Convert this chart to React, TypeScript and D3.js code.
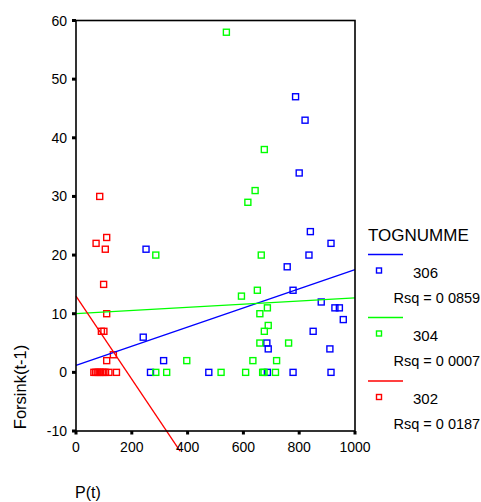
import React from "react";
import * as d3 from "d3";

const xTicks = [0, 200, 400, 600, 800, 1000];
const yTicks = [-10, 0, 10, 20, 30, 40, 50, 60];

const seriesNames = ["306", "304", "302"];
const rsqLabels = ["Rsq = 0 0859", "Rsq = 0 0007", "Rsq = 0 0187"];
const seriesColors = ["#0000ff", "#00ff00", "#ff0000"];

const p306 = [787, 821, 800, 251, 840, 914, 835, 757, 778, 879, 928, 944, 958, 850, 241, 684, 689, 910, 314, 267, 476, 686, 778, 914];
const v306 = [47, 43, 34, 21, 24, 22, 20, 18, 14, 12, 11, 11, 9, 7, 6, 5, 4, 4, 2, 0, 0, 0, 0, 0];

const p304 = [539, 675, 642, 616, 286, 664, 593, 650, 686, 659, 689, 675, 659, 762, 397, 634, 719, 286, 325, 520, 608, 669, 674, 715];
const v304 = [58, 38, 31, 29, 20, 20, 13, 14, 11, 10, 8, 7, 5, 5, 2, 2, 2, 0, 0, 0, 0, 0, 0, 0];

const p302 = [85, 72, 110, 105, 99, 110, 91, 100, 134, 110, 64, 70, 76, 82, 88, 94, 100, 106, 118, 145];
const v302 = [30, 22, 23, 21, 15, 10, 7, 7, 3, 2, 0, 0, 0, 0, 0, 0, 0, 0, 0, 0];

// fit lines: [x0, y0, x1, y1]
const fit306 = [0, 1.2, 1000, 17.5];
const fit304 = [0, 10.0, 1000, 12.7];
const fit302 = [0, 13.0, 373, -13.45];

const FONT = "'Liberation Sans', Arial, sans-serif";

export default function App() {
  const x = d3.scaleLinear().domain([0, 1000]).range([76, 355]);
  const y = d3.scaleLinear().domain([-10, 60]).range([431, 20.5]);
  const series = [
    { p: p306, v: v306, fit: fit306 },
    { p: p304, v: v304, fit: fit304 },
    { p: p302, v: v302, fit: fit302 },
  ];
  const line = d3
    .line<[number, number]>()
    .x((d) => x(d[0]))
    .y((d) => y(d[1]));
  const ms = 6;
  const legendY = [254.5, 317.5, 381];

  return (
    <svg
      width={481}
      height={502}
      style={{ position: "absolute", left: 0, top: 0, background: "#fff" }}
      fontFamily={FONT}
    >
      <rect x={0} y={0} width={481} height={502} fill="#fff" />
      {/* points */}
      {series.map((s, si) =>
        s.p.map((pv, i) => (
          <rect
            key={`pt-${si}-${i}`}
            x={x(pv) - ms / 2}
            y={y(s.v[i]) - ms / 2}
            width={ms}
            height={ms}
            fill="none"
            stroke={seriesColors[si]}
            strokeWidth={1.4}
          />
        ))
      )}
      {/* fit lines */}
      {series.map((s, si) => (
        <path
          key={`fit-${si}`}
          d={line([
            [s.fit[0], s.fit[1]],
            [s.fit[2], s.fit[3]],
          ]) || ""}
          stroke={seriesColors[si]}
          strokeWidth={1.3}
          fill="none"
        />
      ))}
      {/* frame */}
      <rect
        x={76}
        y={20.5}
        width={279}
        height={410.5}
        fill="none"
        stroke="#000"
        strokeWidth={1.6}
      />
      {/* y ticks */}
      {yTicks.map((t) => (
        <g key={`yt-${t}`}>
          <rect x={72} y={y(t) - 1.5} width={4} height={3} fill="#000" />
          <text
            x={67}
            y={y(t)}
            textAnchor="end"
            dominantBaseline="central"
            fontSize={14}
            fill="#000"
          >
            {t}
          </text>
        </g>
      ))}
      {/* x ticks */}
      {xTicks.map((t) => (
        <g key={`xt-${t}`}>
          <rect x={x(t) - 1.5} y={431} width={3} height={3.5} fill="#000" />
          <text
            x={x(t)}
            y={452}
            textAnchor="middle"
            fontSize={14}
            fill="#000"
          >
            {t}
          </text>
        </g>
      ))}
      {/* axis titles */}
      <text
        transform={`translate(25.5, 387) rotate(-90)`}
        textAnchor="middle"
        fontSize={16.5}
        fill="#000"
      >
        Forsink(t-1)
      </text>
      <text x={75} y={498} fontSize={16} fill="#000">
        P(t)
      </text>
      {/* legend */}
      <text x={368} y={241} fontSize={17} fill="#000">
        TOGNUMME
      </text>
      {seriesNames.map((n, i) => (
        <g key={`lg-${i}`}>
          <line
            x1={368}
            x2={403}
            y1={legendY[i]}
            y2={legendY[i]}
            stroke={seriesColors[i]}
            strokeWidth={1.5}
          />
          <rect
            x={376.5}
            y={legendY[i] + 13.5}
            width={5}
            height={5}
            fill="none"
            stroke={seriesColors[i]}
            strokeWidth={1.4}
          />
          <text x={413} y={legendY[i] + 23} fontSize={15} fill="#000">
            {n}
          </text>
          <text x={393.5} y={legendY[i] + 48} fontSize={14.5} fill="#000">
            {rsqLabels[i]}
          </text>
        </g>
      ))}
    </svg>
  );
}
